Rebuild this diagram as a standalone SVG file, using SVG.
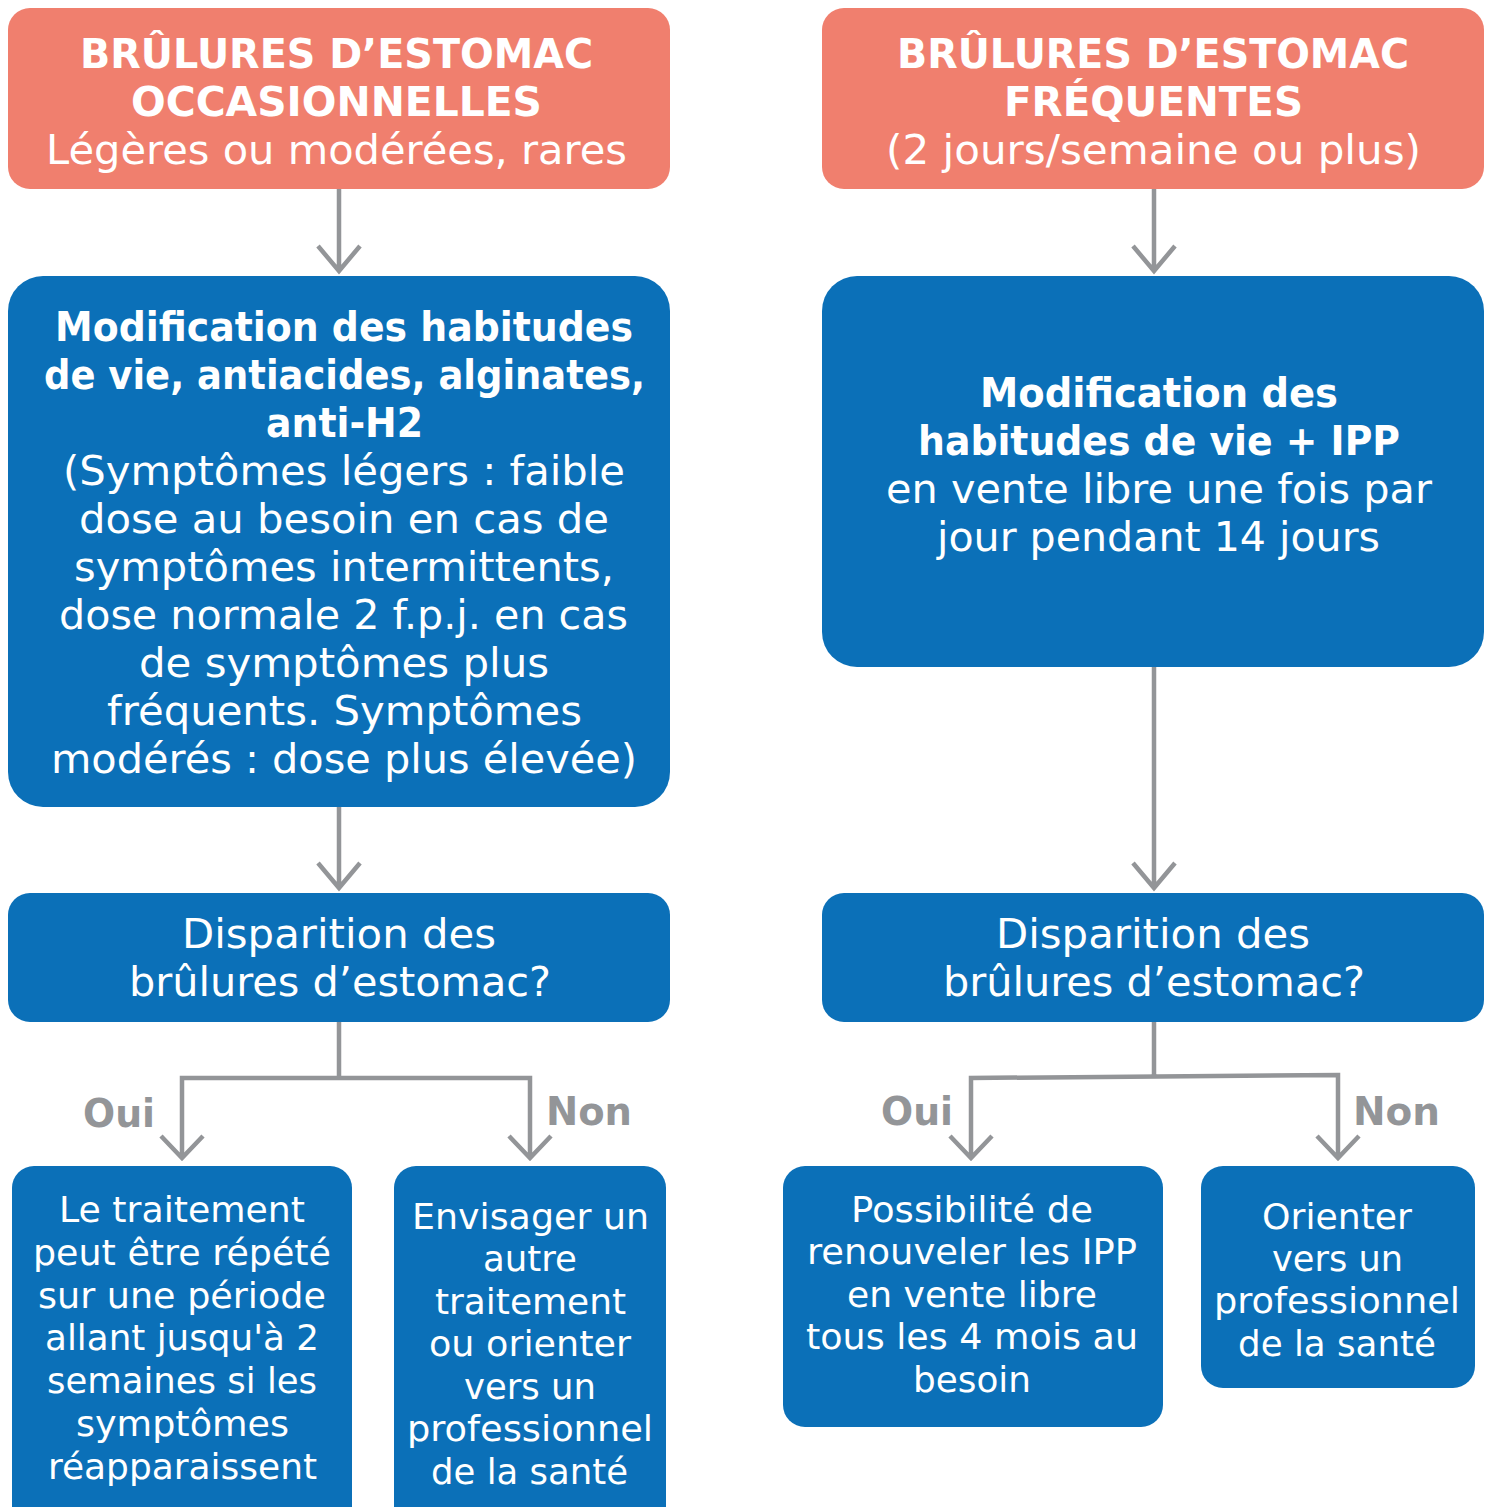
<svg xmlns="http://www.w3.org/2000/svg" width="1491" height="1507" viewBox="0 0 1491 1507">
<style>
.salmon{fill:#F07F6E}
.blue{fill:#0B70B8}
.t{font-family:"DejaVu Sans","Open Sans",sans-serif;fill:#fff;text-anchor:middle}
.b{font-weight:700;font-size:40px}
.r{font-weight:400;font-size:40px}
.s{font-weight:400;font-size:35px}
.lbl{font-family:"DejaVu Sans","Open Sans",sans-serif;font-weight:700;font-size:39px;fill:#939598}
.ln{fill:none;stroke:#939598;stroke-width:4.5;stroke-linejoin:miter;stroke-linecap:butt}
</style>
<g id="connectors">
<path class="ln" d="M339 189V271M318 246L339 271L360 246"/>
<path class="ln" d="M1154 189V271M1133 246L1154 271L1175 246"/>
<path class="ln" d="M339 807V888M318 863L339 888L360 863"/>
<path class="ln" d="M1154 667V888M1133 863L1154 888L1175 863"/>
<path class="ln" d="M339 1022V1078M182 1158V1078H530V1158M161 1136L182 1158L203 1136M509 1136L530 1158L551 1136"/>
<path class="ln" d="M1154 1022V1076.5M971 1158V1078L1338 1075V1158M950 1136L971 1158L992 1136M1317 1136L1338 1158L1359 1136"/>
<text class="lbl" x="83" y="1127" textLength="72" lengthAdjust="spacingAndGlyphs">Oui</text>
<text class="lbl" x="546" y="1125" textLength="86" lengthAdjust="spacingAndGlyphs">Non</text>
<text class="lbl" x="881" y="1125" textLength="72" lengthAdjust="spacingAndGlyphs">Oui</text>
<text class="lbl" x="1353" y="1125" textLength="87" lengthAdjust="spacingAndGlyphs">Non</text>
</g>
<g id="n1">
<rect class="salmon" x="8" y="8" width="662" height="181" rx="22"/>
<text class="t b" x="336.5" y="68" textLength="513" lengthAdjust="spacingAndGlyphs">BRÛLURES D’ESTOMAC</text>
<text class="t b" x="336.5" y="116" textLength="411" lengthAdjust="spacingAndGlyphs">OCCASIONNELLES</text>
<text class="t r" x="336.5" y="164" textLength="581" lengthAdjust="spacingAndGlyphs">Légères ou modérées, rares</text>
</g>
<g id="n2">
<rect class="salmon" x="822" y="8" width="662" height="181" rx="22"/>
<text class="t b" x="1153" y="68" textLength="512" lengthAdjust="spacingAndGlyphs">BRÛLURES D’ESTOMAC</text>
<text class="t b" x="1153.5" y="116" textLength="299" lengthAdjust="spacingAndGlyphs">FRÉQUENTES</text>
<text class="t r" x="1153.5" y="164" textLength="535" lengthAdjust="spacingAndGlyphs">(2 jours/semaine ou plus)</text>
</g>
<g id="n3">
<rect class="blue" x="8" y="276" width="662" height="531" rx="35"/>
<text class="t b" x="344" y="341" textLength="578" lengthAdjust="spacingAndGlyphs">Modification des habitudes</text>
<text class="t b" x="344.5" y="389" textLength="601" lengthAdjust="spacingAndGlyphs">de vie, antiacides, alginates,</text>
<text class="t b" x="344.5" y="437" textLength="157" lengthAdjust="spacingAndGlyphs">anti-H2</text>
<text class="t r" x="344" y="485" textLength="562" lengthAdjust="spacingAndGlyphs">(Symptômes légers : faible</text>
<text class="t r" x="344" y="533" textLength="530" lengthAdjust="spacingAndGlyphs">dose au besoin en cas de</text>
<text class="t r" x="344" y="581" textLength="540" lengthAdjust="spacingAndGlyphs">symptômes intermittents,</text>
<text class="t r" x="343.5" y="629" textLength="569" lengthAdjust="spacingAndGlyphs">dose normale 2 f.p.j. en cas</text>
<text class="t r" x="344" y="677" textLength="410" lengthAdjust="spacingAndGlyphs">de symptômes plus</text>
<text class="t r" x="344.5" y="725" textLength="475" lengthAdjust="spacingAndGlyphs">fréquents. Symptômes</text>
<text class="t r" x="344" y="773" textLength="586" lengthAdjust="spacingAndGlyphs">modérés : dose plus élevée)</text>
</g>
<g id="n4">
<rect class="blue" x="822" y="276" width="662" height="391" rx="35"/>
<text class="t b" x="1159" y="407" textLength="358" lengthAdjust="spacingAndGlyphs">Modification des</text>
<text class="t b" x="1159" y="455" textLength="482" lengthAdjust="spacingAndGlyphs">habitudes de vie + IPP</text>
<text class="t r" x="1159" y="503" textLength="546" lengthAdjust="spacingAndGlyphs">en vente libre une fois par</text>
<text class="t r" x="1158.5" y="551" textLength="443" lengthAdjust="spacingAndGlyphs">jour pendant 14 jours</text>
</g>
<g id="n5">
<rect class="blue" x="8" y="893" width="662" height="129" rx="22"/>
<text class="t r" x="339" y="948" textLength="314" lengthAdjust="spacingAndGlyphs">Disparition des</text>
<text class="t r" x="340" y="996" textLength="422" lengthAdjust="spacingAndGlyphs">brûlures d’estomac?</text>
</g>
<g id="n6">
<rect class="blue" x="822" y="893" width="662" height="129" rx="22"/>
<text class="t r" x="1153" y="948" textLength="314" lengthAdjust="spacingAndGlyphs">Disparition des</text>
<text class="t r" x="1154" y="996" textLength="422" lengthAdjust="spacingAndGlyphs">brûlures d’estomac?</text>
</g>
<g id="n7">
<rect class="blue" x="12" y="1166" width="340" height="370" rx="22"/>
<text class="t s" x="182" y="1222" textLength="246" lengthAdjust="spacingAndGlyphs">Le traitement</text>
<text class="t s" x="182" y="1265" textLength="298" lengthAdjust="spacingAndGlyphs">peut être répété</text>
<text class="t s" x="182" y="1308" textLength="288" lengthAdjust="spacingAndGlyphs">sur une période</text>
<text class="t s" x="182" y="1350" textLength="274" lengthAdjust="spacingAndGlyphs">allant jusqu'à 2</text>
<text class="t s" x="182" y="1393" textLength="270" lengthAdjust="spacingAndGlyphs">semaines si les</text>
<text class="t s" x="182.5" y="1436" textLength="213" lengthAdjust="spacingAndGlyphs">symptômes</text>
<text class="t s" x="182.5" y="1479" textLength="269" lengthAdjust="spacingAndGlyphs">réapparaissent</text>
</g>
<g id="n8">
<rect class="blue" x="394" y="1166" width="272" height="370" rx="22"/>
<text class="t s" x="530.5" y="1229" textLength="237" lengthAdjust="spacingAndGlyphs">Envisager un</text>
<text class="t s" x="530" y="1271" textLength="94" lengthAdjust="spacingAndGlyphs">autre</text>
<text class="t s" x="530.5" y="1314" textLength="191" lengthAdjust="spacingAndGlyphs">traitement</text>
<text class="t s" x="530" y="1356" textLength="202" lengthAdjust="spacingAndGlyphs">ou orienter</text>
<text class="t s" x="530" y="1399" textLength="132" lengthAdjust="spacingAndGlyphs">vers un</text>
<text class="t s" x="530" y="1441" textLength="246" lengthAdjust="spacingAndGlyphs">professionnel</text>
<text class="t s" x="529.5" y="1484" textLength="197" lengthAdjust="spacingAndGlyphs">de la santé</text>
</g>
<g id="n9">
<rect class="blue" x="783" y="1166" width="380" height="261" rx="22"/>
<text class="t s" x="972" y="1222" textLength="242" lengthAdjust="spacingAndGlyphs">Possibilité de</text>
<text class="t s" x="972" y="1264" textLength="330" lengthAdjust="spacingAndGlyphs">renouveler les IPP</text>
<text class="t s" x="972" y="1307" textLength="250" lengthAdjust="spacingAndGlyphs">en vente libre</text>
<text class="t s" x="972" y="1349" textLength="332" lengthAdjust="spacingAndGlyphs">tous les 4 mois au</text>
<text class="t s" x="972" y="1392" textLength="118" lengthAdjust="spacingAndGlyphs">besoin</text>
</g>
<g id="n10">
<rect class="blue" x="1201" y="1166" width="274" height="222" rx="22"/>
<text class="t s" x="1337" y="1229" textLength="150" lengthAdjust="spacingAndGlyphs">Orienter</text>
<text class="t s" x="1337.5" y="1271" textLength="131" lengthAdjust="spacingAndGlyphs">vers un</text>
<text class="t s" x="1337" y="1313" textLength="246" lengthAdjust="spacingAndGlyphs">professionnel</text>
<text class="t s" x="1337" y="1356" textLength="198" lengthAdjust="spacingAndGlyphs">de la santé</text>
</g>
</svg>
